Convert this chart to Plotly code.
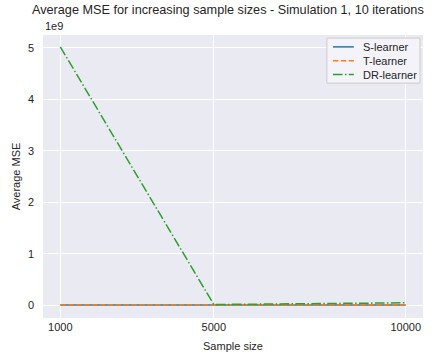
import plotly.graph_objects as go

# Average MSE per learner across sample sizes
sample_sizes = [1000, 5000, 10000]
s_learner = [0.001e9, 0.001e9, 0.001e9]
t_learner = [0.002e9, 0.002e9, 0.002e9]
dr_learner = [5.02e9, 0.012e9, 0.045e9]

learner_names = ["S-learner", "T-learner", "DR-learner"]
learner_colors = ["#1f77b4", "#ff7f0e", "#2ca02c"]
# matplotlib-style dash patterns scaled for a 1.5px line
learner_dashes = ["solid", "5.5px,2.4px", "9.6px,2.4px,1.5px,2.4px"]

y_ticks = [0, 1e9, 2e9, 3e9, 4e9, 5e9]
y_tick_labels = ["0", "1", "2", "3", "4", "5"]
x_ticks = [1000, 5000, 10000]
x_tick_labels = ["1000", "5000", "10000"]

FONT = "Liberation Sans, Arial, sans-serif"
TEXT = "#262626"

fig = go.Figure()
for name, values, color, dash in zip(learner_names, [s_learner, t_learner, dr_learner],
                                     learner_colors, learner_dashes):
    fig.add_trace(go.Scatter(x=sample_sizes, y=values, mode="lines", name=name,
                             line=dict(color=color, width=1.5, dash=dash)))

fig.update_layout(
    width=434, height=354,
    margin=dict(l=43, r=11, t=35, b=36, autoexpand=False),
    paper_bgcolor="white",
    plot_bgcolor="#EAEAF2",
    font=dict(family=FONT, size=11, color=TEXT),
    title=dict(text="Average MSE for increasing sample sizes - Simulation 1, 10 iterations",
               x=0.525, xanchor="center", y=0.985, yanchor="top",
               font=dict(size=12.7, color=TEXT)),
    showlegend=False,
    xaxis=dict(range=[550, 10450], tickvals=x_ticks, ticktext=x_tick_labels,
               showgrid=True, gridcolor="white", gridwidth=1, zeroline=False,
               showline=False, ticks="", ticklabelstandoff=1, automargin=False,
               title=dict(text="Sample size", font=dict(size=11, color=TEXT), standoff=10)),
    yaxis=dict(range=[-0.25e9, 5.25e9], tickvals=y_ticks, ticktext=y_tick_labels,
               showgrid=True, gridcolor="white", gridwidth=1, zeroline=False,
               showline=False, ticks="", ticklabelstandoff=8, automargin=False,
               title=dict(text="Average MSE", font=dict(size=11, color=TEXT), standoff=5)),
)

fig.add_annotation(text="1e9", xref="paper", yref="paper", x=0, y=1.0,
                   xanchor="left", yanchor="bottom", showarrow=False,
                   font=dict(size=11, color=TEXT), yshift=1)

# Compact legend box in the upper-right corner of the axes
fig.add_shape(type="rect", xref="paper", yref="paper", x0=0.747, x1=0.992, y0=0.830, y1=0.989,
              line=dict(color="#CCCCCC", width=1), fillcolor="rgba(245,245,250,0.85)", layer="above")
row_y = [0.958, 0.909, 0.860]
for name, color, dash, ry in zip(learner_names, learner_colors, learner_dashes, row_y):
    fig.add_shape(type="line", xref="paper", yref="paper", x0=0.763, x1=0.818, y0=ry, y1=ry,
                  line=dict(color=color, width=1.5, dash=dash), layer="above")
    fig.add_annotation(text=name, xref="paper", yref="paper", x=0.838, y=ry,
                       xanchor="left", yanchor="middle", showarrow=False,
                       font=dict(size=11, color=TEXT))

fig.write_html("out.html")
